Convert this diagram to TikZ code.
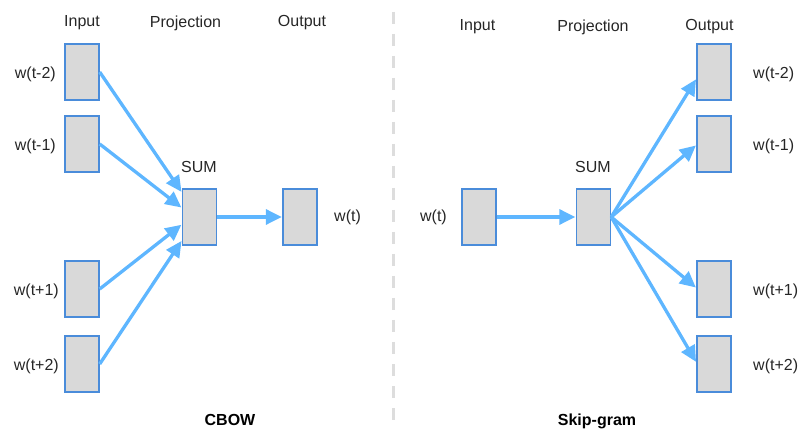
\documentclass[tikz,border=0pt]{standalone}
\usepackage{fontspec}
\setmainfont{Liberation Sans}
\usetikzlibrary{arrows.meta,calc}
\definecolor{boxfill}{HTML}{D9D9D9}
\definecolor{boxline}{HTML}{4A8CDA}
\definecolor{arrowblue}{HTML}{5EB6FF}
\definecolor{sepgray}{HTML}{DDDDDD}
\tikzset{
  vec/.style={draw=boxline, line width=1.4pt, fill=boxfill, minimum width=34pt, minimum height=56pt, inner sep=0pt},
  lbl/.style={font=\fontsize{16}{19}\selectfont, inner sep=0pt, text=black!85},
  ttl/.style={font=\fontsize{16}{19}\selectfont\bfseries, inner sep=0pt},
  flow/.style={draw=arrowblue, line width=3.3pt, -{Triangle[length=16pt,width=15pt]}, shorten >=0.5pt},
  sep/.style={draw=sepgray, line width=3pt, dash pattern=on 12pt off 10pt}
}
\begin{document}
\begin{tikzpicture}[x=1pt,y=-1pt]
\useasboundingbox (0,0) rectangle (798,430);
% separator
\coordinate (st) at (393,12);
\coordinate (sb) at (393,430);
\draw[sep] (st) -- (sb);

% ---------- CBOW ----------
\node[lbl] (ci) at (82,23) {Input};
\node[lbl] (cp) at (185.5,23) {Projection};
\node[lbl] (co) at (302,23) {Output};

\node[vec] (a1) at (82,72) {};
\node[vec] (a2) at (82,144) {};
\node[vec] (a3) at (82,289) {};
\node[vec] (a4) at (82,364) {};
\node[lbl,anchor=east] (la1) at (56,74) {w(t-2)};
\node[lbl,anchor=east] (la2) at (56,146) {w(t-1)};
\node[lbl,anchor=east] (la3) at (59,291) {w(t+1)};
\node[lbl,anchor=east] (la4) at (59,366) {w(t+2)};

\node[vec] (cs) at (199.5,217) {};
\node[lbl] (csl) at (199,167) {SUM};
\node[vec] (cout) at (300,217) {};
\node[lbl,anchor=west] (coutl) at (334,217) {w(t)};

\draw[flow] (a1.east) -- ($(cs.north west)!0.07!(cs.south west)$);
\draw[flow] (a2.east) -- ($(cs.north west)!0.34!(cs.south west)$);
\draw[flow] (a3.east) -- ($(cs.north west)!0.63!(cs.south west)$);
\draw[flow] (a4.east) -- ($(cs.north west)!0.91!(cs.south west)$);
\draw[flow] (cs.east) -- (cout.west);

\node[ttl] (cbow) at (230,420) {CBOW};

% ---------- Skip-gram ----------
\node[lbl] (si) at (477.5,27) {Input};
\node[lbl] (sp) at (593,27) {Projection};
\node[lbl] (so) at (709.5,27) {Output};

\node[vec] (sin) at (479,217) {};
\node[lbl,anchor=east] (sinl) at (447,217) {w(t)};
\node[vec] (ss) at (593.5,217) {};
\node[lbl] (ssl) at (593,167) {SUM};

\node[vec] (b1) at (714,72) {};
\node[vec] (b2) at (714,144) {};
\node[vec] (b3) at (714,289) {};
\node[vec] (b4) at (714,364) {};
\node[lbl,anchor=west] (lb1) at (753,74) {w(t-2)};
\node[lbl,anchor=west] (lb2) at (753,146) {w(t-1)};
\node[lbl,anchor=west] (lb3) at (753,291) {w(t+1)};
\node[lbl,anchor=west] (lb4) at (753,366) {w(t+2)};

\draw[flow] (sin.east) -- (ss.west);
\draw[flow] (ss.east) -- ($(b1.north west)!0.62!(b1.south west)$);
\draw[flow] (ss.east) -- ($(b2.north west)!0.52!(b2.south west)$);
\draw[flow] (ss.east) -- ($(b3.north west)!0.48!(b3.south west)$);
\draw[flow] (ss.east) -- ($(b4.north west)!0.47!(b4.south west)$);

\node[ttl] (skip) at (597,421) {Skip-gram};
\end{tikzpicture}
\end{document}
